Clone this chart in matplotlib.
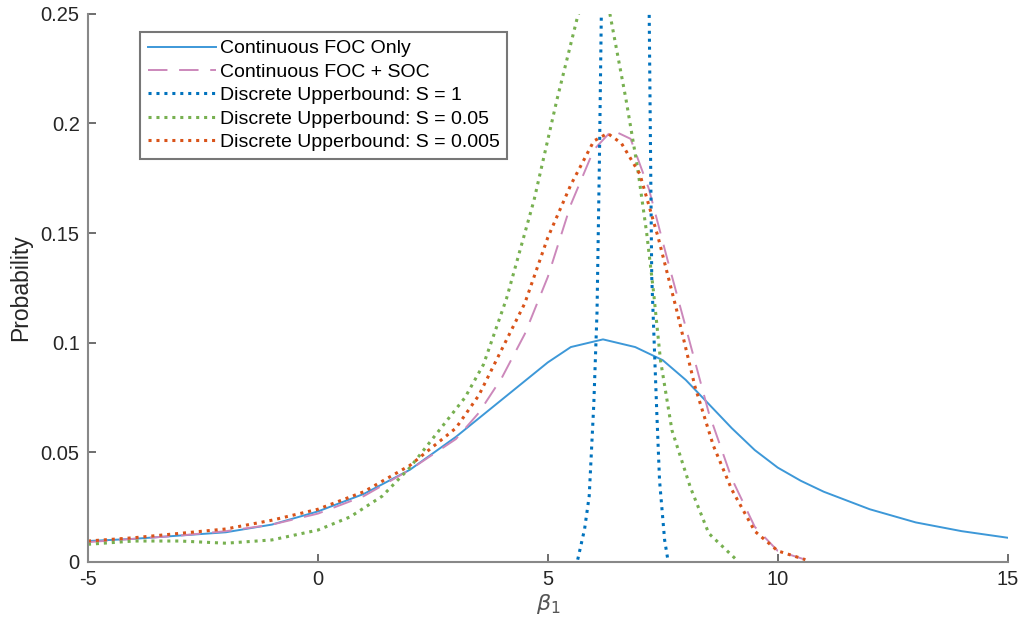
import matplotlib
matplotlib.use("Agg")
import matplotlib.pyplot as plt

plt.rcParams['font.family'] = ['Liberation Sans', 'DejaVu Sans']
plt.rcParams['axes.unicode_minus'] = False

# continuous FOC only
foc_x = [-5, -4, -3, -2, -1, 0, 1, 2, 3, 4, 5, 5.5, 6.2, 6.9, 7.5, 8, 8.5, 9, 9.5, 10,
         10.5, 11, 12, 13, 14, 15]
foc_y = [0.0095, 0.0105, 0.012, 0.0135, 0.017, 0.023, 0.031, 0.042, 0.057, 0.074, 0.091,
         0.098, 0.1015, 0.098, 0.092, 0.083, 0.072, 0.061, 0.051, 0.043, 0.037, 0.032,
         0.024, 0.018, 0.014, 0.011]

# continuous FOC + SOC
soc_x = [-5, -4, -3, -2, -1, 0, 1, 2, 3, 3.5, 4, 4.5, 5, 5.5, 6, 6.4, 6.8, 7.2, 7.6, 8,
         8.5, 9, 9.5, 10, 10.6]
soc_y = [0.009, 0.0105, 0.012, 0.014, 0.017, 0.022, 0.030, 0.042, 0.056, 0.068, 0.084,
         0.104, 0.130, 0.163, 0.188, 0.197, 0.193, 0.170, 0.138, 0.107, 0.068, 0.038,
         0.016, 0.005, 0.001]

# discrete upper bound, S = 1
s1_x = [5.65, 5.8, 5.9, 6.0, 6.07, 6.12, 6.17, 6.3, 6.7, 7.1, 7.2, 7.26, 7.37, 7.43,
        7.54, 7.61]
s1_y = [0.001, 0.015, 0.03, 0.072, 0.114, 0.18, 0.26, 0.6, 0.9, 0.6, 0.26, 0.13, 0.068,
        0.037, 0.010, 0.001]

# discrete upper bound, S = 0.05
s05_x = [-5, -4, -3, -2, -1, 0, 0.7, 1.4, 2, 2.6, 3.2, 3.6, 4.1, 4.7, 5.2, 5.65, 6.0,
         6.35, 6.7, 6.95, 7.15, 7.3, 7.45, 7.7, 8.1, 8.5, 9.1]
s05_y = [0.008, 0.0095, 0.0095, 0.0085, 0.010, 0.0145, 0.0205, 0.030, 0.043, 0.059,
         0.075, 0.090, 0.120, 0.165, 0.211, 0.249, 0.268, 0.25, 0.211, 0.180, 0.150,
         0.123, 0.092, 0.060, 0.034, 0.013, 0.001]

# discrete upper bound, S = 0.005
s005_x = [-5, -4, -3, -2, -1, 0, 1, 2, 3, 3.5, 4, 4.5, 5, 5.5, 6, 6.3, 6.6, 7, 7.4, 7.8,
          8.2, 8.6, 9, 9.5, 10, 10.6]
s005_y = [0.0095, 0.011, 0.013, 0.015, 0.019, 0.024, 0.032, 0.044, 0.061, 0.076, 0.097,
          0.118, 0.148, 0.172, 0.192, 0.1955, 0.191, 0.177, 0.148, 0.115, 0.080, 0.053,
          0.033, 0.014, 0.005, 0.001]

labels = ['Continuous FOC Only', 'Continuous FOC + SOC', 'Discrete Upperbound: S = 1',
          'Discrete Upperbound: S = 0.05', 'Discrete Upperbound: S = 0.005']

fig = plt.figure(figsize=(10.23, 6.32), dpi=100)
ax = fig.add_axes([0.086, 0.111, 0.899, 0.867])

dot = (0, (1, 1.6))
ax.plot(foc_x, foc_y, color='#3d98d8', lw=1.4, label=labels[0])
ax.plot(soc_x, soc_y, color='#cc88bb', lw=1.4, ls=(0, (10, 6)), label=labels[1])
ax.plot(s1_x, s1_y, color='#0072bd', lw=2.2, ls=dot, label=labels[2])
ax.plot(s05_x, s05_y, color='#77b050', lw=2.2, ls=dot, label=labels[3])
ax.plot(s005_x, s005_y, color='#d95319', lw=2.2, ls=dot, label=labels[4])

ax.set_xlim(-5, 15)
ax.set_ylim(0, 0.25)
ax.set_xticks([-5, 0, 5, 10, 15])
ax.set_yticks([0, 0.05, 0.1, 0.15, 0.2, 0.25])
ax.set_yticklabels(['0', '0.05', '0.1', '0.15', '0.2', '0.25'])

for side in ['top', 'right']:
    ax.spines[side].set_visible(False)
for side in ['left', 'bottom']:
    ax.spines[side].set_color('#888888')
    ax.spines[side].set_linewidth(1.5)
ax.tick_params(direction='in', length=6, width=1.2, color='#555555',
               labelsize=14.5, labelcolor='#262626', pad=6)

ax.set_xlabel(r'$\beta_1$', fontsize=16, color='#555555', labelpad=2)
ax.set_ylabel('Probability', fontsize=16.5, color='#262626', labelpad=6)

leg = ax.legend(loc='upper left', bbox_to_anchor=(0.0565, 0.967), fontsize=14,
                handlelength=3.5, handletextpad=0.2, borderpad=0.4, labelspacing=0.3,
                borderaxespad=0, fancybox=False, framealpha=1)
leg.get_frame().set_edgecolor('#777777')
leg.get_frame().set_linewidth(1.5)

fig.savefig('out.png', dpi=100)
